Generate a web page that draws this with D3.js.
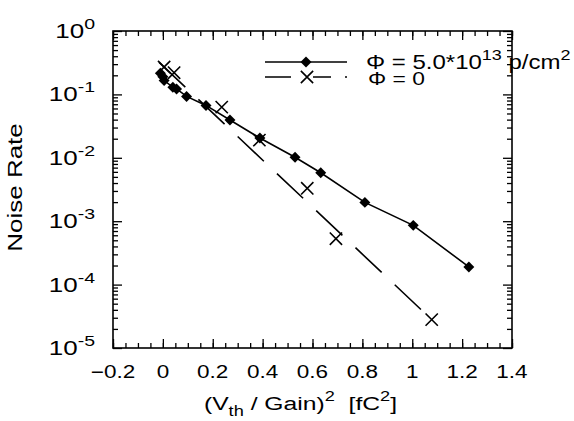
<!DOCTYPE html>
<html>
<head>
<meta charset="utf-8">
<script src="https://cdn.jsdelivr.net/npm/d3@7"></script>
<style>
  body { margin: 0; background: #fff; }
  svg text { font-family: "Liberation Sans", Arial, sans-serif; fill: #000; white-space: pre; }
  .axis path { display: none; }
  .axis line { stroke: #000; stroke-width: 1.3; }
</style>
</head>
<body>
<div id="chart"></div>
<script>
// irradiated detector (diamonds)
const irrX = [-0.01, 0.0, 0.005, 0.04, 0.055, 0.095, 0.173, 0.269, 0.389, 0.53, 0.633, 0.81, 1.004, 1.227];
const irrY = [0.215, 0.19, 0.165, 0.13, 0.122, 0.093, 0.067, 0.0395, 0.0205, 0.0102, 0.0058, 0.00198, 0.00086, 0.00019];
// unirradiated detector (crosses)
const unX = [0.005, 0.045, 0.236, 0.387, 0.579, 0.694, 1.078];
const unY = [0.27, 0.22, 0.063, 0.019, 0.0033, 0.00053, 0.000028];
// straight fit drawn dashed for the unirradiated set
const fitX = [-0.015, 1.078];
const fitY = [0.32, 0.000028];

const xTicks = [-0.2, 0, 0.2, 0.4, 0.6, 0.8, 1, 1.2, 1.4];
const yTicks = [1, 1e-1, 1e-2, 1e-3, 1e-4, 1e-5];
const legendLabels = ["Φ = 5.0*10", "Φ = 0"];

const outerWidth = 574, outerHeight = 421;
const margin = { top: 31, right: 62, bottom: 73, left: 113 };
const innerWidth = outerWidth - margin.left - margin.right;
const innerHeight = outerHeight - margin.top - margin.bottom;
const stretch = 1.25; // the original lettering is wider than Arial

const svg = d3.select("#chart").append("svg")
  .attr("width", outerWidth).attr("height", outerHeight);
const g = svg.append("g").attr("transform", `translate(${margin.left},${margin.top})`);

const xScale = d3.scaleLinear().domain([-0.2, 1.4]).range([0, innerWidth]);
const yScale = d3.scaleLog().domain([1e-5, 1]).range([innerHeight, 0]);

const xMinor = d3.range(-0.2, 1.4001, 0.05).map((v) => +v.toFixed(2));
const yMinor = [];
for (let e = -5; e < 0; e++) for (let k = 2; k <= 9; k++) yMinor.push(k * Math.pow(10, e));

const majorLen = 9, minorLen = 5;

function ticks(axis, tx, ty) {
  g.append("g").attr("class", "axis").attr("transform", `translate(${tx},${ty})`)
    .call(axis.tickFormat(""))
    .call((s) => s.selectAll("text").remove());
}

// ticks on all four sides, pointing inward
ticks(d3.axisBottom(xScale).tickValues(xMinor).tickSize(-minorLen), 0, innerHeight);
ticks(d3.axisBottom(xScale).tickValues(xTicks).tickSize(-majorLen), 0, innerHeight);
ticks(d3.axisTop(xScale).tickValues(xMinor).tickSize(-minorLen), 0, 0);
ticks(d3.axisTop(xScale).tickValues(xTicks).tickSize(-majorLen), 0, 0);
ticks(d3.axisLeft(yScale).tickValues(yMinor).tickSize(-minorLen), 0, 0);
ticks(d3.axisLeft(yScale).tickValues(yTicks).tickSize(-majorLen), 0, 0);
ticks(d3.axisRight(yScale).tickValues(yMinor).tickSize(-minorLen), innerWidth, 0);
ticks(d3.axisRight(yScale).tickValues(yTicks).tickSize(-majorLen), innerWidth, 0);

// frame
g.append("rect").attr("width", innerWidth).attr("height", innerHeight)
  .attr("fill", "none").attr("stroke", "#000").attr("stroke-width", 1.6);

// x tick labels
g.selectAll(".xlab").data(xTicks).join("text")
  .attr("class", "xlab")
  .attr("transform", (d) => `translate(${xScale(d)},${innerHeight + 30}) scale(${stretch},1)`)
  .attr("text-anchor", "middle")
  .attr("font-size", 18)
  .text((d) => d3.format("")(d));

// y tick labels 10^n
const yl = g.selectAll(".ylab").data(yTicks).join("text")
  .attr("class", "ylab")
  .attr("transform", (d) => `translate(-18,${yScale(d) + 7}) scale(1.3,1)`)
  .attr("text-anchor", "end")
  .attr("font-size", 20);
yl.append("tspan").text("10");
yl.append("tspan").attr("dy", -9).attr("font-size", 15)
  .text((d) => String(Math.round(Math.log10(d))));

// axis titles
const xt = g.append("text")
  .attr("transform", `translate(${innerWidth / 2 - 12},${innerHeight + 62}) scale(1.3,1)`)
  .attr("text-anchor", "middle")
  .attr("font-size", 19);
xt.append("tspan").text("(V");
xt.append("tspan").attr("dy", 6).attr("font-size", 14).text("th");
xt.append("tspan").attr("dy", -6).text(" / Gain)");
xt.append("tspan").attr("dy", -9).attr("font-size", 14).text("2");
xt.append("tspan").attr("dy", 9).text("  [fC");
xt.append("tspan").attr("dy", -9).attr("font-size", 14).text("2");
xt.append("tspan").attr("dy", 9).text("]");

g.append("text")
  .attr("transform", `translate(-91,${innerHeight / 2 - 2}) rotate(-90) scale(1.3,1)`)
  .attr("text-anchor", "middle")
  .attr("font-size", 20)
  .text("Noise Rate");

// series
const irr = irrX.map((x, i) => ({ x, y: irrY[i] }));
const un = unX.map((x, i) => ({ x, y: unY[i] }));
const fit = fitX.map((x, i) => ({ x, y: fitY[i] }));

const line = d3.line().x((d) => xScale(d.x)).y((d) => yScale(d.y));

g.append("path").datum(irr.slice(1))
  .attr("d", line).attr("fill", "none")
  .attr("stroke", "#000").attr("stroke-width", 1.6);

g.append("path").datum(fit)
  .attr("d", line).attr("fill", "none")
  .attr("stroke", "#000").attr("stroke-width", 1.6)
  .attr("stroke-dasharray", "36,18");

const diamond = d3.symbol().type(d3.symbolSquare).size(60);
const cross = d3.symbol().type(d3.symbolX).size(100);

g.selectAll(".dia").data(irr).join("path")
  .attr("class", "dia")
  .attr("d", diamond)
  .attr("transform", (d) => `translate(${xScale(d.x)},${yScale(d.y)}) rotate(45)`)
  .attr("fill", "#000");

g.selectAll(".crs").data(un).join("path")
  .attr("class", "crs")
  .attr("d", cross)
  .attr("transform", (d) => `translate(${xScale(d.x)},${yScale(d.y)})`)
  .attr("fill", "none").attr("stroke", "#000").attr("stroke-width", 1.6);

// legend
const lg = svg.append("g");
lg.append("line").attr("x1", 265).attr("x2", 347).attr("y1", 62).attr("y2", 62)
  .attr("stroke", "#000").attr("stroke-width", 1.6);
lg.append("path").attr("d", diamond)
  .attr("transform", "translate(306,62) rotate(45)").attr("fill", "#000");
lg.append("line").attr("x1", 265).attr("x2", 347).attr("y1", 77).attr("y2", 77)
  .attr("stroke", "#000").attr("stroke-width", 1.6)
  .attr("stroke-dasharray", "26,22,18,14,2,10");
lg.append("path").attr("d", cross)
  .attr("transform", "translate(307,77)")
  .attr("fill", "none").attr("stroke", "#000").attr("stroke-width", 1.6);

const t1 = lg.append("text").attr("transform", `translate(366,69) scale(1.2,1)`).attr("font-size", 20);
t1.append("tspan").text(legendLabels[0]);
t1.append("tspan").attr("dy", -9).attr("font-size", 15).text("13");
t1.append("tspan").attr("dy", 9).text(" p/cm");
t1.append("tspan").attr("dy", -9).attr("font-size", 15).text("2");
lg.append("text").attr("transform", `translate(368,85) scale(1.2,1)`)
  .attr("font-size", 19).text(legendLabels[1]);
</script>
</body>
</html>
